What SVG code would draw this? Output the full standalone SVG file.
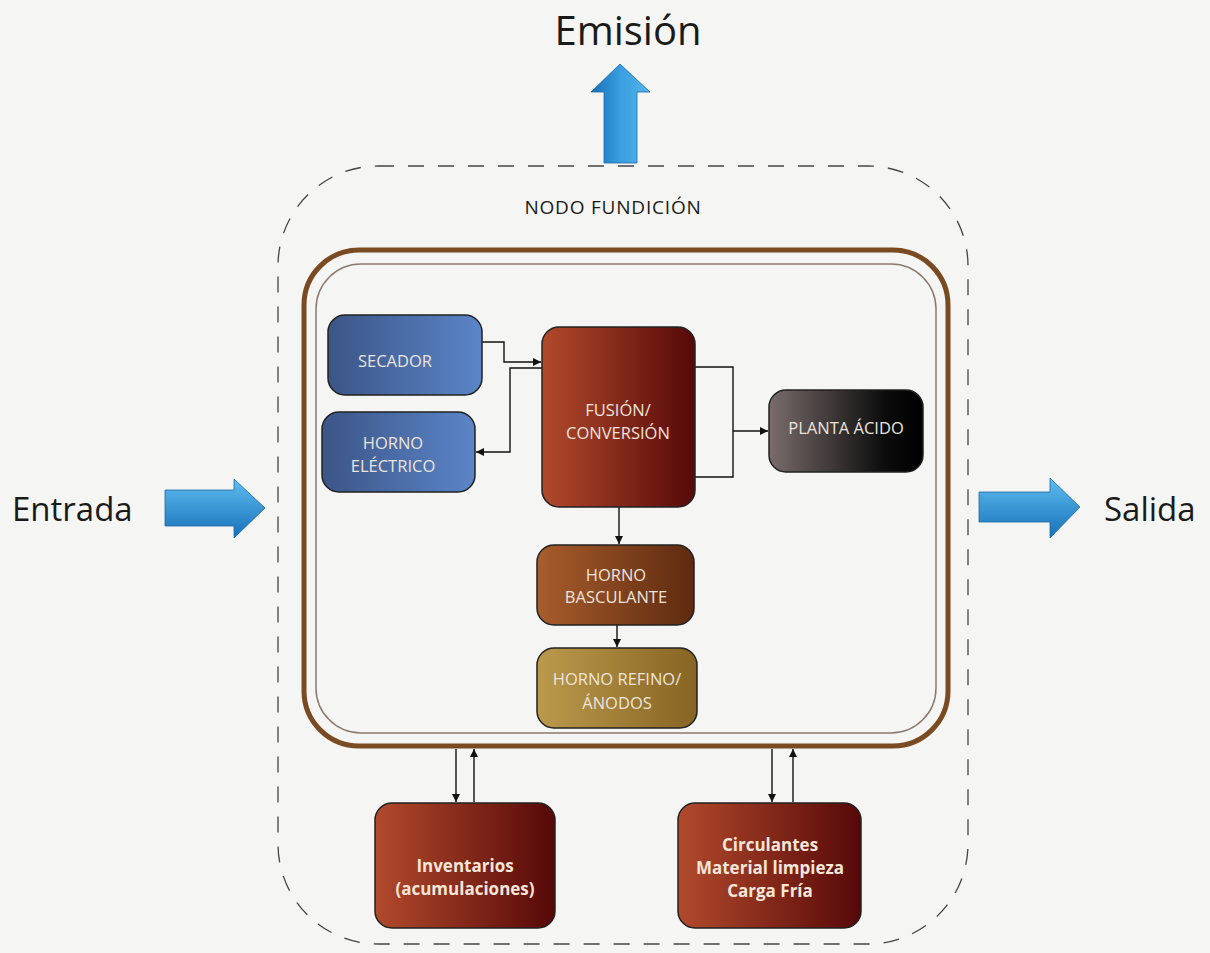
<svg xmlns="http://www.w3.org/2000/svg" width="1210" height="953" viewBox="0 0 1210 953">
<defs>
<style>
.big{font-family:"Open Sans","Noto Sans","Liberation Sans",sans-serif;fill:#1a1a1a}
.nt{font-family:"Open Sans","Noto Sans","Liberation Sans",sans-serif;font-size:16.5px;fill:#ece4dc;text-anchor:middle}
.bt{font-family:"Open Sans","Noto Sans","Liberation Sans",sans-serif;font-size:17px;font-weight:bold;fill:#f4e6d8;text-anchor:middle}
.box{stroke:#222;stroke-width:1.5}
.conn{fill:none;stroke:#111;stroke-width:1.4}
</style>
<linearGradient id="gBlue" x1="0" y1="0" x2="1" y2="0"><stop offset="0" stop-color="#3b5587"/><stop offset="1" stop-color="#5b85c8"/></linearGradient>
<linearGradient id="gRed" x1="0" y1="0" x2="1" y2="0"><stop offset="0" stop-color="#b24a2c"/><stop offset="1" stop-color="#560808"/></linearGradient>
<linearGradient id="gBlack" x1="0" y1="0" x2="1" y2="0"><stop offset="0" stop-color="#7a6c6c"/><stop offset="0.75" stop-color="#0c0c0c"/><stop offset="1" stop-color="#000"/></linearGradient>
<linearGradient id="gBrown" x1="0" y1="0" x2="1" y2="0"><stop offset="0" stop-color="#a85d2c"/><stop offset="1" stop-color="#5e2a10"/></linearGradient>
<linearGradient id="gGold" x1="0" y1="0" x2="1" y2="0"><stop offset="0" stop-color="#bb9a4c"/><stop offset="1" stop-color="#876423"/></linearGradient>
<linearGradient id="gArrowH" x1="0" y1="0" x2="0" y2="1"><stop offset="0" stop-color="#5fbdf0"/><stop offset="1" stop-color="#1670b8"/></linearGradient>
<linearGradient id="gArrowV" x1="0" y1="0" x2="1" y2="0"><stop offset="0" stop-color="#1670b8"/><stop offset="0.5" stop-color="#3a9ee0"/><stop offset="1" stop-color="#55b6ea"/></linearGradient>
<marker id="ah" viewBox="0 0 10 10" refX="10" refY="5" markerWidth="8" markerHeight="8" markerUnits="userSpaceOnUse" orient="auto"><path d="M0,0 L10,5 L0,10 z" fill="#111"/></marker>
</defs>
<rect width="1210" height="953" fill="#f5f5f3"/>

<g id="labels">
<text class="big" x="628" y="45" font-size="40" text-anchor="middle">Emisión</text>
<text class="big" x="12" y="521" font-size="33">Entrada</text>
<text class="big" x="1104" y="521" font-size="33">Salida</text>
</g>

<g id="big-arrows">
<path d="M604,163 L604,92 L591,92 L620,64 L650,92 L637,92 L637,163 Z" fill="url(#gArrowV)" stroke="#1a6aa8" stroke-width="0.8"/>
<path d="M165,490 L234,490 L234,479 L265,508 L234,538 L234,526 L165,526 Z" fill="url(#gArrowH)" stroke="#1a6aa8" stroke-width="0.8"/>
<path d="M979,492 L1050,492 L1050,478 L1080,507 L1050,538 L1050,522 L979,522 Z" fill="url(#gArrowH)" stroke="#1a6aa8" stroke-width="0.8"/>
</g>

<g id="nodo-fundicion">
<rect x="278" y="166" width="690" height="778" rx="100" ry="100" fill="none" stroke="#444" stroke-width="1.3" stroke-dasharray="16,14"/>
<text x="613" y="214" font-family="'Open Sans','Noto Sans','Liberation Sans',sans-serif" font-size="19" letter-spacing="0.8" fill="#1a1a1a" text-anchor="middle">NODO FUNDICIÓN</text>
<rect x="304" y="250" width="644" height="496" rx="55" ry="55" fill="none" stroke="#7a4a22" stroke-width="5"/>
<rect x="316" y="264" width="620" height="469" rx="45" ry="45" fill="none" stroke="#8c7a70" stroke-width="1.5"/>
</g>

<g id="connectors">
<path class="conn" d="M482,342 L504,342 L504,362 L541,362" marker-end="url(#ah)"/>
<path class="conn" d="M542,368 L510,368 L510,452 L476,452" marker-end="url(#ah)"/>
<path class="conn" d="M695,367 L733,367 L733,477 L695,477"/>
<path class="conn" d="M733,431 L768,431" marker-end="url(#ah)"/>
<path class="conn" d="M619,507 L619,544" marker-end="url(#ah)"/>
<path class="conn" d="M617,625 L617,647" marker-end="url(#ah)"/>
<path class="conn" d="M456,749 L456,802" marker-end="url(#ah)"/>
<path class="conn" d="M474,802 L474,749" marker-end="url(#ah)"/>
<path class="conn" d="M772,749 L772,802" marker-end="url(#ah)"/>
<path class="conn" d="M793,802 L793,749" marker-end="url(#ah)"/>
</g>

<g id="secador">
<rect class="box" x="328" y="315" width="154" height="80" rx="17" fill="url(#gBlue)"/>
<text class="nt" x="395" y="367">SECADOR</text>
</g>
<g id="horno-electrico">
<rect class="box" x="322" y="412" width="153" height="80" rx="17" fill="url(#gBlue)"/>
<text class="nt" x="393" y="449">HORNO</text>
<text class="nt" x="393" y="472">ELÉCTRICO</text>
</g>
<g id="fusion-conversion">
<rect class="box" x="542" y="327" width="153" height="180" rx="17" fill="url(#gRed)"/>
<text class="nt" x="618" y="416">FUSIÓN/</text>
<text class="nt" x="618" y="439">CONVERSIÓN</text>
</g>
<g id="planta-acido">
<rect class="box" x="769" y="390" width="154" height="82" rx="17" fill="url(#gBlack)"/>
<text class="nt" x="846" y="434">PLANTA ÁCIDO</text>
</g>
<g id="horno-basculante">
<rect class="box" x="537" y="545" width="157" height="80" rx="17" fill="url(#gBrown)"/>
<text class="nt" x="616" y="581">HORNO</text>
<text class="nt" x="616" y="603">BASCULANTE</text>
</g>
<g id="horno-refino">
<rect class="box" x="537" y="648" width="160" height="80" rx="17" fill="url(#gGold)"/>
<text class="nt" x="617" y="685">HORNO REFINO/</text>
<text class="nt" x="617" y="709">ÁNODOS</text>
</g>
<g id="inventarios">
<rect class="box" x="375" y="803" width="180" height="125" rx="17" fill="url(#gRed)"/>
<text class="bt" x="465" y="872">Inventarios</text>
<text class="bt" x="465" y="895">(acumulaciones)</text>
</g>
<g id="circulantes">
<rect class="box" x="678" y="803" width="183" height="125" rx="17" fill="url(#gRed)"/>
<text class="bt" x="770" y="851">Circulantes</text>
<text class="bt" x="770" y="874">Material limpieza</text>
<text class="bt" x="770" y="897">Carga Fría</text>
</g>
</svg>
